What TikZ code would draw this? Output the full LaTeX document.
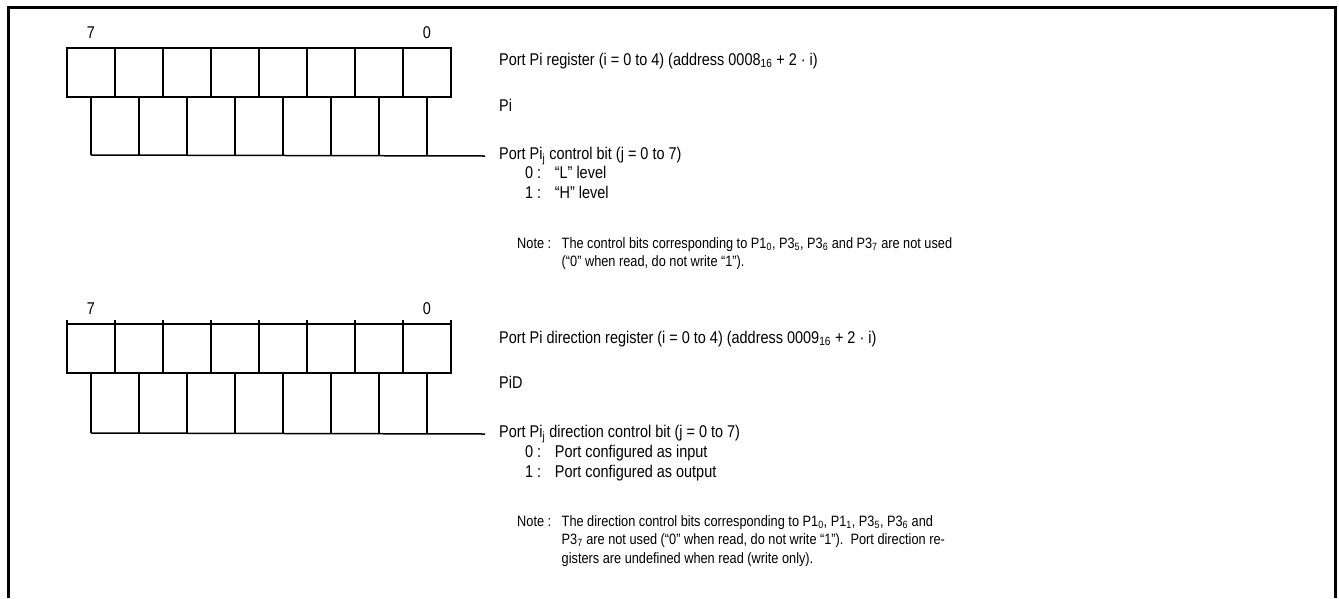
\documentclass[tikz,border=0pt]{standalone}
\usepackage{fontspec}
\setmainfont{Liberation Sans}[FakeStretch=0.85]
\usepackage{tikz}

\tikzset{
    lbl/.style={anchor=base west, inner sep=0pt, font=\fontsize{17}{21}\selectfont},
    notetext/.style={anchor=base west, inner sep=0pt, font=\fontsize{15}{18.5}\selectfont},
    bitnum/.style={inner sep=0pt, font=\fontsize{17}{20}\selectfont},
}

\begin{document}
\begin{tikzpicture}[x=1pt, y=-1pt]
    \useasboundingbox (0,0) rectangle (1339,598);
    % frame
    \draw[line width=3pt](8, 598) -- (8, 7) -- (1335, 7) -- (1335, 598);

    % port Pi register
    \draw[line width=2.5pt](67, 48) rectangle (451, 97);
    \foreach \x in {115,163,...,403}
        \draw[line width=2.5pt](\x, 48) -- (\x, 97);
    \foreach \x in {91,139,...,427}
        \draw[line width=1.5pt](\x, 97) -- (\x, 155);
    \node[bitnum] (pisev) at (91, 33) {7};
    \node[bitnum] (pizero) at (427, 33) {0};

    \node[lbl] (pireg) at (499, 65) {Port Pi register (i = 0 to 4) (address 0008\textsubscript{16} + 2 · i)};
    \node[lbl] (piname) at (499, 111) {Pi};
    \node[lbl, anchor=west, inner xsep=14pt] (pibit) at (485, 156) {Port Pi\textsubscript{j} control bit (j = 0 to 7)};
    \draw[line width=1.5pt](91, 155) -- (pibit.west);
    \node[lbl] (pilow) at (525, 178) {0 :\hspace{0.8em}“L” level};
    \node[lbl] (pihigh) at (525, 198) {1 :\hspace{0.8em}“H” level};
    \node[notetext] (pinote) at (517, 248) {\begin{tabular}[t]{@{}l@{\hspace{0.7em}}l@{}}
        Note : & The control bits corresponding to P1\textsubscript{0}, P3\textsubscript{5}, P3\textsubscript{6} and P3\textsubscript{7} are not used\\
               & (“0” when read, do not write “1”).
    \end{tabular}};

    % port Pi direction register
    \draw[line width=2.5pt](67, 324) rectangle (451, 373);
    \foreach \x in {67,115,...,451}
        \draw[line width=2.5pt](\x, 320) -- (\x, 373);
    \foreach \x in {91,139,...,427}
        \draw[line width=1.5pt](\x, 373) -- (\x, 433);
    \node[bitnum] (pdsev) at (91, 309) {7};
    \node[bitnum] (pdzero) at (427, 309) {0};

    \node[lbl] (pdreg) at (499, 343) {Port Pi direction register (i = 0 to 4) (address 0009\textsubscript{16} + 2 · i)};
    \node[lbl] (pdname) at (499, 388) {PiD};
    \node[lbl, anchor=west, inner xsep=14pt] (pdbit) at (485, 434) {Port Pi\textsubscript{j} direction control bit (j = 0 to 7)};
    \draw[line width=1.5pt](91, 433) -- (pdbit.west);
    \node[lbl] (pdin) at (525, 457) {0 :\hspace{0.8em}Port configured as input};
    \node[lbl] (pdout) at (525, 477) {1 :\hspace{0.8em}Port configured as output};
    \node[notetext] (pdnote) at (517, 526) {\begin{tabular}[t]{@{}l@{\hspace{0.7em}}l@{}}
        Note : & The direction control bits corresponding to P1\textsubscript{0}, P1\textsubscript{1}, P3\textsubscript{5}, P3\textsubscript{6} and\\
               & P3\textsubscript{7} are not used (“0” when read, do not write “1”).\ \ Port direction re-\\
               & gisters are undefined when read (write only).
    \end{tabular}};
\end{tikzpicture}
\end{document}
